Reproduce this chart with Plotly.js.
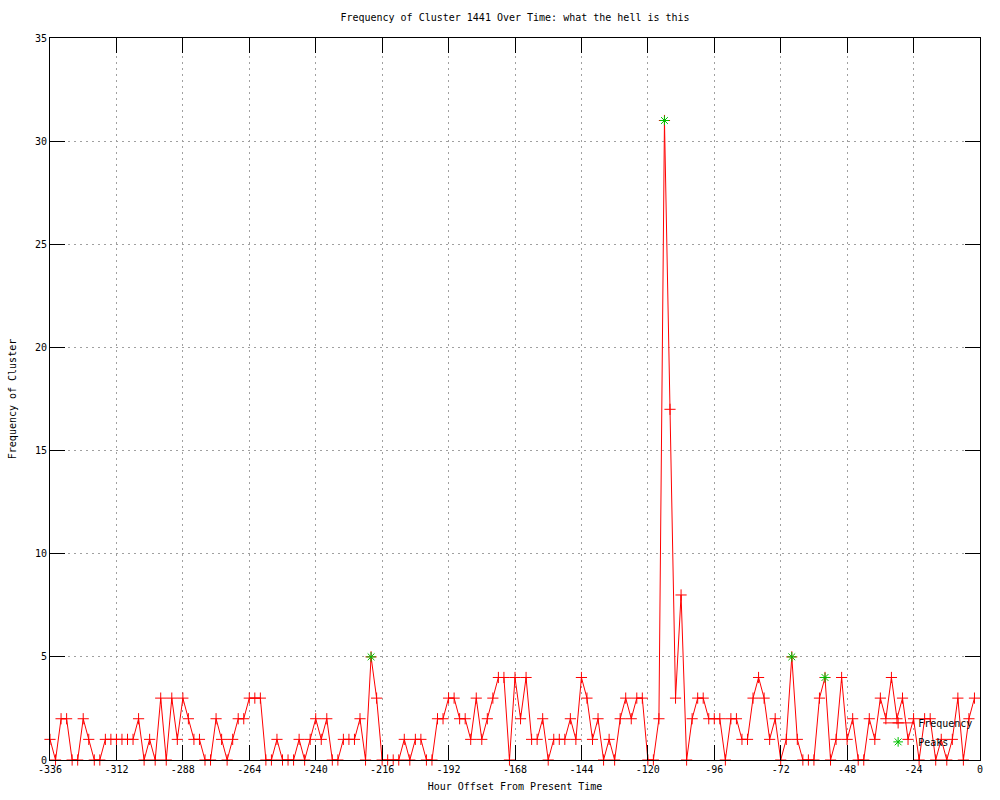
<!DOCTYPE html>
<html>
<head>
<meta charset="utf-8">
<script src="https://cdn.plot.ly/plotly-3.0.1.min.js"></script>
<style>html,body{margin:0;padding:0;background:#fff;}#chart{width:1000px;height:800px;}</style>
</head>
<body>
<div id="chart"></div>
<script>
// Hour offsets (every 2 hours)
var hours = [-336,-334,-332,-330,-328,-326,-324,-322,-320,-318,-316,-314,-312,-310,-308,-306,-304,-302,-300,-298,
-296,-294,-292,-290,-288,-286,-284,-282,-280,-278,-276,-274,-272,-270,-268,-266,-264,-262,-260,-258,
-256,-254,-252,-250,-248,-246,-244,-242,-240,-238,-236,-234,-232,-230,-228,-226,-224,-222,-220,-218,
-216,-214,-212,-210,-208,-206,-204,-202,-200,-198,-196,-194,-192,-190,-188,-186,-184,-182,-180,-178,
-176,-174,-172,-170,-168,-166,-164,-162,-160,-158,-156,-154,-152,-150,-148,-146,-144,-142,-140,-138,
-136,-134,-132,-130,-128,-126,-124,-122,-120,-118,-116,-114,-112,-110,-108,-106,-104,-102,-100,-98,
-96,-94,-92,-90,-88,-86,-84,-82,-80,-78,-76,-74,-72,-70,-68,-66,-64,-62,-60,-58,
-56,-54,-52,-50,-48,-46,-44,-42,-40,-38,-36,-34,-32,-30,-28,-26,-24,-22,-20,-18,
-16,-14,-12,-10,-8,-6,-4,-2];
var frequency = [1,0,2,2,0,0,2,1,0,0,1,1,1,1,1,1,2,0,1,0,
3,0,3,1,3,2,1,1,0,0,2,1,0,1,2,2,3,3,3,0,
0,1,0,0,0,1,0,1,2,1,2,0,0,1,1,1,2,0,5,3,
0,0,0,0,1,0,1,1,0,0,2,2,3,3,2,2,1,3,1,2,
3,4,4,0,4,2,4,1,1,2,0,1,1,1,2,1,4,3,1,2,
0,1,0,2,3,2,3,3,0,0,2,31,17,3,8,0,2,3,3,2,
2,2,0,2,2,1,1,3,4,3,1,2,0,1,5,1,0,0,0,3,
4,0,1,4,1,2,0,0,2,1,3,2,4,2,3,1,2,0,2,2,
0,1,0,1,3,0,2,3];
// Detected peaks
var peakHours = [-220, -114, -68, -56];
var peakValues = [5, 31, 5, 4];
// Tick labels
var xTickVals = [-336,-312,-288,-264,-240,-216,-192,-168,-144,-120,-96,-72,-48,-24,0];
var xTickText = ['-336','-312','-288','-264','-240','-216','-192','-168','-144','-120','-96','-72','-48','-24','0'];
var yTickVals = [0,5,10,15,20,25,30,35];

var font = 'DejaVu Sans Mono, monospace';

var traces = [
  {
    x: hours, y: frequency, name: 'Frequency', type: 'scatter', mode: 'lines+markers',
    line: {color: '#ff0000', width: 1},
    marker: {symbol: 'cross-thin', size: 8, color: '#ff0000', line: {color: '#ff0000', width: 1}},
    cliponaxis: false
  },
  {
    x: peakHours, y: peakValues, name: 'Peaks', type: 'scatter', mode: 'markers',
    marker: {symbol: 'asterisk-open', size: 8, color: '#00c000', line: {color: '#00c000', width: 1}},
    cliponaxis: false
  }
];

var axisCommon = {
  showline: true, linecolor: '#000', linewidth: 1, mirror: 'ticks',
  ticks: 'inside', ticklen: 15, tickwidth: 1, tickcolor: '#000',
  showgrid: true, gridcolor: '#a0a0a0', gridwidth: 1, griddash: '2px,4px',
  zeroline: false, tickfont: {family: font, size: 10, color: '#000'}
};

var layout = {
  width: 1000, height: 800,
  paper_bgcolor: '#fff', plot_bgcolor: '#fff',
  margin: {l: 50, r: 20, t: 38, b: 40},
  font: {family: font, size: 10, color: '#000'},
  title: {text: 'Frequency of Cluster 1441 Over Time: what the hell is this',
          font: {family: font, size: 10, color: '#000'}, x: 0.515, xanchor: 'center', y: 0.978, yanchor: 'middle'},
  xaxis: Object.assign({}, axisCommon, {
    range: [-336, 0], tickvals: xTickVals, ticktext: xTickText,
    title: {text: 'Hour Offset From Present Time', font: {family: font, size: 10, color: '#000'}, standoff: 8}
  }),
  yaxis: Object.assign({}, axisCommon, {
    range: [0, 35], tickvals: yTickVals,
    title: {text: 'Frequency of Cluster', font: {family: font, size: 10, color: '#000'}, standoff: 16}
  }),
  showlegend: true,
  legend: {x: 0.998, y: 0.005, xanchor: 'right', yanchor: 'bottom', bgcolor: 'rgba(0,0,0,0)',
           font: {family: font, size: 10, color: '#000'}, tracegroupgap: 0, itemwidth: 30}
};

Plotly.newPlot('chart', traces, layout, {displayModeBar: false, staticPlot: true});
</script>
</body>
</html>
